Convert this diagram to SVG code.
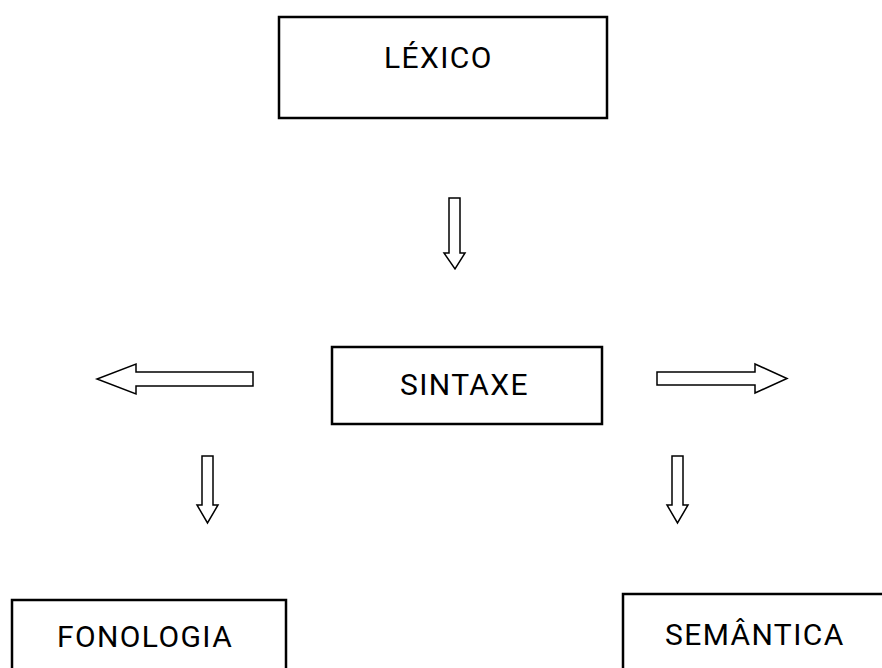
<svg xmlns="http://www.w3.org/2000/svg" width="882" height="668" viewBox="0 0 882 668">
<style>
.box{fill:#fff;stroke:#000;stroke-width:2.5}
.arr{fill:#fff;stroke:#000;stroke-width:1.5;stroke-linejoin:miter}
.lbl{font-family:Roboto,"Liberation Sans",sans-serif;font-size:30px;font-weight:400;letter-spacing:1.4px;fill:#000}
</style>
<rect width="882" height="668" fill="#fff"/>
<g id="lexico">
<rect class="box" x="279" y="17" width="328" height="101"/>
<text class="lbl" x="384" y="68">LÉXICO</text>
</g>
<g id="sintaxe">
<rect class="box" x="332" y="347" width="270" height="77"/>
<text class="lbl" x="400" y="395">SINTAXE</text>
</g>
<g id="fonologia">
<rect class="box" x="12" y="600" width="274" height="80"/>
<text class="lbl" x="57" y="647">FONOLOGIA</text>
</g>
<g id="semantica">
<rect class="box" x="623" y="594" width="270" height="90"/>
<text class="lbl" x="665" y="645">SEMÂNTICA</text>
</g>
<g id="connectors">
<polygon class="arr" points="449,198 460,198 460,253 465,253 455,269 444,253 449,253"/>
<polygon class="arr" points="253,372 253,386 136,386 136,394 97,379 136,364 136,372"/>
<polygon class="arr" points="657,372 755,372 755,364 787,378.5 755,393 755,385 657,385"/>
<polygon class="arr" points="202,456 213,456 213,505 218,505 207.5,523 197,505 202,505"/>
<polygon class="arr" points="672,456 683,456 683,505 688,505 677.5,523 667,505 672,505"/>
</g>
</svg>
